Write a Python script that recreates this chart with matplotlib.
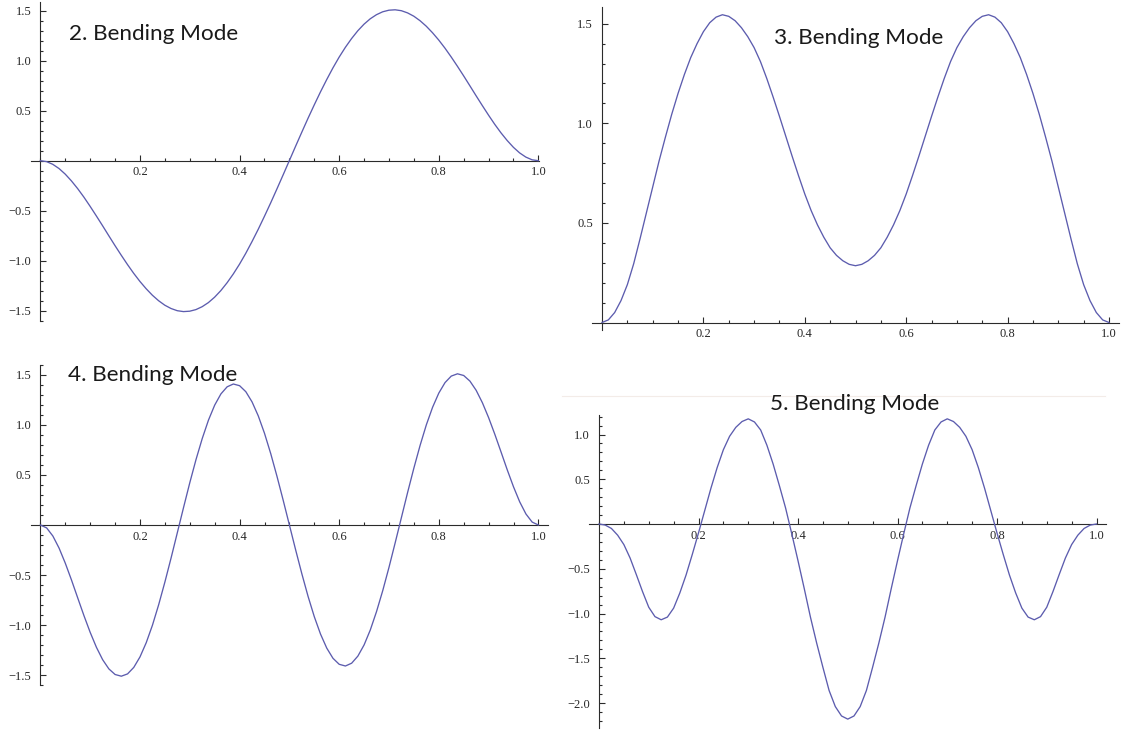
import numpy as np
import matplotlib
matplotlib.use("Agg")
import matplotlib.pyplot as plt
from matplotlib.ticker import FixedLocator, MultipleLocator, FuncFormatter
from matplotlib.lines import Line2D

W, H = 1123, 732

# sample positions along the beam, step 0.0125
x_pos = np.linspace(0.0, 1.0, 81)

# mode shapes
mode2 = [0.0, -0.009, -0.036, -0.078, -0.134, -0.202, -0.279, -0.364, -0.456, -0.552,
         -0.650, -0.750, -0.849, -0.945, -1.038, -1.126, -1.207, -1.280, -1.345, -1.400,
         -1.445, -1.478, -1.500, -1.509, -1.505, -1.489, -1.460, -1.419, -1.365, -1.299,
         -1.221, -1.133, -1.035, -0.927, -0.810, -0.687, -0.557, -0.423, -0.284, -0.143,
         0.0,
         0.143, 0.284, 0.423, 0.557, 0.687, 0.810, 0.927, 1.035, 1.133, 1.221,
         1.299, 1.365, 1.419, 1.460, 1.489, 1.505, 1.509, 1.500, 1.478, 1.445,
         1.400, 1.345, 1.280, 1.207, 1.126, 1.038, 0.945, 0.849, 0.750, 0.650,
         0.552, 0.456, 0.364, 0.279, 0.202, 0.134, 0.078, 0.036, 0.009, 0.0]

mode3 = [0.0, 0.013, 0.05, 0.11, 0.19, 0.295, 0.42, 0.55, 0.68, 0.81,
         0.93, 1.045, 1.15, 1.245, 1.33, 1.40, 1.46, 1.505, 1.533, 1.545,
         1.537, 1.515, 1.48, 1.435, 1.38, 1.31, 1.225, 1.132, 1.035, 0.935,
         0.835, 0.738, 0.645, 0.562, 0.49, 0.428, 0.375, 0.337, 0.31, 0.292,
         0.285,
         0.292, 0.31, 0.337, 0.375, 0.428, 0.49, 0.562, 0.645, 0.738, 0.835,
         0.935, 1.035, 1.132, 1.225, 1.31, 1.38, 1.435, 1.48, 1.515, 1.537,
         1.545, 1.533, 1.505, 1.46, 1.40, 1.33, 1.245, 1.15, 1.045, 0.93,
         0.81, 0.68, 0.55, 0.42, 0.295, 0.19, 0.11, 0.05, 0.013, 0.0]

mode4 = [0.0, -0.029, -0.110, -0.231, -0.382, -0.551, -0.730, -0.907, -1.074, -1.223,
         -1.347, -1.439, -1.495, -1.512, -1.489, -1.424, -1.319, -1.177, -1.002, -0.797,
         -0.570, -0.328, -0.076, 0.176, 0.423, 0.655, 0.865, 1.049, 1.199, 1.311,
         1.382, 1.410, 1.393, 1.333, 1.231, 1.091, 0.917, 0.714, 0.488, 0.248,
         0.0,
         -0.248, -0.488, -0.714, -0.917, -1.091, -1.231, -1.333, -1.393, -1.410, -1.382,
         -1.311, -1.199, -1.049, -0.865, -0.655, -0.423, -0.176, 0.076, 0.328, 0.570,
         0.797, 1.002, 1.177, 1.319, 1.424, 1.489, 1.512, 1.495, 1.439, 1.347,
         1.223, 1.074, 0.907, 0.730, 0.551, 0.382, 0.231, 0.110, 0.029, 0.0]

mode5 = [0.0, -0.012, -0.05, -0.125, -0.23, -0.38, -0.565, -0.755, -0.93, -1.035,
         -1.07, -1.04, -0.94, -0.77, -0.57, -0.34, -0.10, 0.15, 0.40, 0.63,
         0.83, 0.98, 1.08, 1.145, 1.175, 1.14, 1.05, 0.88, 0.67, 0.43,
         0.18, -0.11, -0.41, -0.72, -1.04, -1.33, -1.60, -1.86, -2.04, -2.145,
         -2.18,
         -2.145, -2.04, -1.86, -1.60, -1.33, -1.04, -0.72, -0.41, -0.11, 0.18,
         0.43, 0.67, 0.88, 1.05, 1.14, 1.175, 1.145, 1.08, 0.98, 0.83,
         0.63, 0.40, 0.15, -0.10, -0.34, -0.57, -0.77, -0.94, -1.04, -1.07,
         -1.035, -0.93, -0.755, -0.565, -0.38, -0.23, -0.125, -0.05, -0.012, 0.0]

titles = ["2. Bending Mode", "3. Bending Mode", "4. Bending Mode", "5. Bending Mode"]

x_major = [0.2, 0.4, 0.6, 0.8, 1.0]
y_major_sym = [-1.5, -1.0, -0.5, 0.5, 1.0, 1.5]
y_major_pos = [0.5, 1.0, 1.5]
y_major_m5 = [-2.0, -1.5, -1.0, -0.5, 0.5, 1.0]

LINE = "#5c5cae"
AXC = "#2b2b2b"

plt.rcParams["font.family"] = "Liberation Serif"


def tick_text(v, pos):
    if abs(v) < 1e-9:
        return ""
    s = f"{abs(v):.1f}"
    return "\u2212" + s if v < 0 else s


def panel(fig, x0, y0, sx, sy, xlim, ylim, yticks):
    # x0, y0: pixel position of the data origin; sx, sy: pixels per unit
    left = x0 + xlim[0] * sx
    top = y0 - ylim[1] * sy
    w = (xlim[1] - xlim[0]) * sx
    h = (ylim[1] - ylim[0]) * sy
    ax = fig.add_axes([left / W, 1 - (top + h) / H, w / W, h / H])
    ax.set_xlim(xlim)
    ax.set_ylim(ylim)
    ax.patch.set_visible(False)
    for side in ("top", "right"):
        ax.spines[side].set_visible(False)
    for side in ("left", "bottom"):
        ax.spines[side].set_position(("data", 0))
        ax.spines[side].set_color(AXC)
        ax.spines[side].set_linewidth(0.8)
    ax.xaxis.set_major_locator(FixedLocator(x_major))
    ax.xaxis.set_minor_locator(MultipleLocator(0.05))
    ax.yaxis.set_major_locator(FixedLocator(yticks))
    ax.yaxis.set_minor_locator(MultipleLocator(0.1))
    ax.xaxis.set_major_formatter(FuncFormatter(tick_text))
    ax.yaxis.set_major_formatter(FuncFormatter(tick_text))
    ax.tick_params(which="both", direction="in", color=AXC, width=0.8,
                   labelsize=9, labelcolor="#262626")
    ax.tick_params(which="major", length=4.5)
    ax.tick_params(which="minor", length=2.3)
    ax.tick_params(axis="x", pad=4)
    ax.tick_params(axis="y", pad=6.5)
    return ax


fig = plt.figure(figsize=(W / 100, H / 100), dpi=100)
fig.patch.set_facecolor("white")

ax1 = panel(fig, 40.3, 160.7, 498, 100, (-0.018, 1.002), (-1.6, 1.59), y_major_sym)
ax1.plot(x_pos, mode2, color=LINE, lw=0.95, zorder=3)

ax2 = panel(fig, 602, 322.5, 507, 199.2, (-0.02, 1.02), (-0.04, 1.585), y_major_pos)
ax2.plot(x_pos, mode3, color=LINE, lw=0.95, zorder=3)

ax3 = panel(fig, 40.4, 525, 498, 100, (-0.018, 1.02), (-1.6, 1.6), y_major_sym)
ax3.plot(x_pos, mode4, color=LINE, lw=0.95, zorder=3)

ax4 = panel(fig, 599, 524, 497.5, 89.5, (-0.02, 1.02), (-2.28, 1.22), y_major_m5)
ax4.plot(x_pos, mode5, color=LINE, lw=0.95, zorder=3)

# faint frame edge above the last panel
fig.add_artist(Line2D([562 / W, 1105 / W], [1 - 396 / H, 1 - 396 / H],
                      color="#f3ece8", lw=0.8))

# panel captions, sized to a common width
title_pos = [(69, 40), (774, 44), (68, 380.5), (770, 410)]
target_w = 170
fig.canvas.draw()
renderer = fig.canvas.get_renderer()
for (px, py), txt in zip(title_pos, titles):
    t = fig.text(px / W, 1 - py / H, txt, ha="left", va="baseline",
                 family="Lato", fontsize=16, color="#1a1a1a")
    wpx = t.get_window_extent(renderer).width
    t.set_fontsize(16 * target_w / wpx)

fig.savefig("out.png", dpi=100, facecolor="white")
